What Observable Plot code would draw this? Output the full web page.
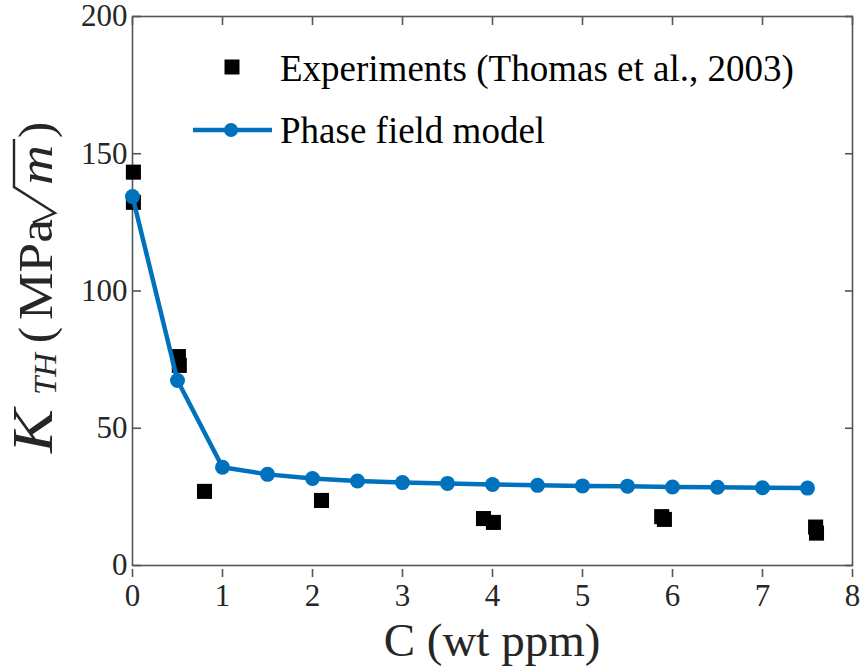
<!DOCTYPE html>
<html><head><meta charset="utf-8">
<script src="https://cdn.jsdelivr.net/npm/d3@7"></script>
<script src="https://cdn.jsdelivr.net/npm/@observablehq/plot@0.6"></script>
<style>
body{margin:0;background:#fff}
#chart svg text{font-family:"Liberation Serif", serif !important;}
</style>
</head><body><div id="chart"></div>
<script>
// Experiments (Thomas et al., 2003)
const expC = [0.01, 0.01, 0.51, 0.52, 0.80, 2.10, 3.90, 4.01, 5.88, 5.91, 7.59, 7.60];
const expK = [143.3, 132.3, 76.1, 72.9, 27.0, 23.7, 17.1, 15.7, 17.8, 16.8, 14.0, 11.8];
// Phase field model
const modelC = [0, 0.5, 1, 1.5, 2, 2.5, 3, 3.5, 4, 4.5, 5, 5.5, 6, 6.5, 7, 7.5];
const modelK = [134.4, 67.4, 35.8, 33.2, 31.7, 30.8, 30.2, 29.9, 29.5, 29.2, 29.0, 28.9, 28.6, 28.5, 28.3, 28.2];
const xTicks = [0, 1, 2, 3, 4, 5, 6, 7, 8];
const yTicks = [0, 50, 100, 150, 200];
const seriesNames = ["Experiments (Thomas et al., 2003)", "Phase field model"];
const xLabel = "C (wt ppm)";
const blue = "#0072BD";
const axisColor = "#555555";
const serif = "Liberation Serif";

const exp = expC.map((c, i) => ({c, k: expK[i]}));
const model = modelC.map((c, i) => ({c, k: modelK[i]}));

const svg = Plot.plot({
  width: 860, height: 672,
  marginLeft: 132, marginRight: 8, marginTop: 16, marginBottom: 107,
  style: "font-family:'Liberation Serif',serif;font-size:31px;color:#262626;background:#fff;overflow:visible",
  x: {domain: [0, 8]},
  y: {domain: [0, 200]},
  marks: [
    Plot.frame({stroke: axisColor, strokeWidth: 1.6}),
    Plot.axisX(xTicks, {anchor: "bottom", tickSize: -8, tickPadding: 14, dy: 12, stroke: axisColor, strokeWidth: 1.6, label: null, fontSize: 31, fontFamily: serif, fill: "#262626"}),
    Plot.axisX(xTicks, {anchor: "top", tickSize: -8, stroke: axisColor, strokeWidth: 1.6, label: null, text: null}),
    Plot.axisY(yTicks, {anchor: "left", tickSize: -8, tickPadding: 14, dx: 1, stroke: axisColor, strokeWidth: 1.6, label: null, fontSize: 31, fontFamily: serif, fill: "#262626"}),
    Plot.axisY(yTicks, {anchor: "right", tickSize: -8, stroke: axisColor, strokeWidth: 1.6, label: null, text: null}),
    Plot.dot(exp, {x: "c", y: "k", symbol: "square", r: 8.5, fill: "#000", stroke: null}),
    Plot.line(model, {x: "c", y: "k", stroke: blue, strokeWidth: 4.5}),
    Plot.dot(model, {x: "c", y: "k", r: 7.5, fill: blue, stroke: null})
  ]
});
document.getElementById("chart").appendChild(svg);

const s = d3.select(svg);
s.selectAll("text").attr("font-family", serif).style("font-family", "'Liberation Serif', serif");
const ff = "'Liberation Serif', serif";
// x label
s.append("text").attr("x", 492).attr("y", 656).attr("text-anchor", "middle")
  .attr("font-family", ff).attr("font-size", 47).attr("fill", "#262626").text(xLabel);

// y label: K_TH (MPa sqrt(m)), rotated; local u runs along the text from its start
const yl = s.append("g").attr("transform", "translate(52,453) rotate(-90)")
  .attr("fill", "#262626").attr("font-family", ff).attr("text-anchor", "start");
const piece = (u, str, size, italic, len, dy = 0) => yl.append("text")
  .attr("x", u).attr("y", dy).attr("font-size", size).attr("font-style", italic ? "italic" : "normal")
  .attr("textLength", len).attr("lengthAdjust", "spacingAndGlyphs").text(str);
piece(0, "K", 56, true, 44);
piece(58, "TH", 31, true, 42, 4);
piece(110, "(", 48, false, 16);
piece(133, "MPa", 48, false, 101);
yl.append("path").attr("d", "M226,-15 L231,-18 L240,3 L266,-38 L314,-38")
  .attr("fill", "none").attr("stroke", "#262626").attr("stroke-width", 2.4).attr("stroke-linejoin", "miter");
piece(268, "m", 48, true, 40);
piece(315, ")", 48, false, 16);

// legend
const lg = s.append("g").attr("font-family", ff).attr("font-size", 37).attr("fill", "#000").attr("text-anchor", "start");
lg.append("path").attr("d", d3.symbol(d3.symbolSquare, 15 * 15)()).attr("transform", "translate(232,67)").attr("fill", "#000");
lg.append("text").attr("x", 280).attr("y", 81).text(seriesNames[0]);
lg.append("line").attr("x1", 193).attr("x2", 272).attr("y1", 130).attr("y2", 130).attr("stroke", blue).attr("stroke-width", 4.5);
lg.append("circle").attr("cx", 231).attr("cy", 130).attr("r", 7).attr("fill", blue);
lg.append("text").attr("x", 280).attr("y", 143).text(seriesNames[1]);
</script>
</body></html>
